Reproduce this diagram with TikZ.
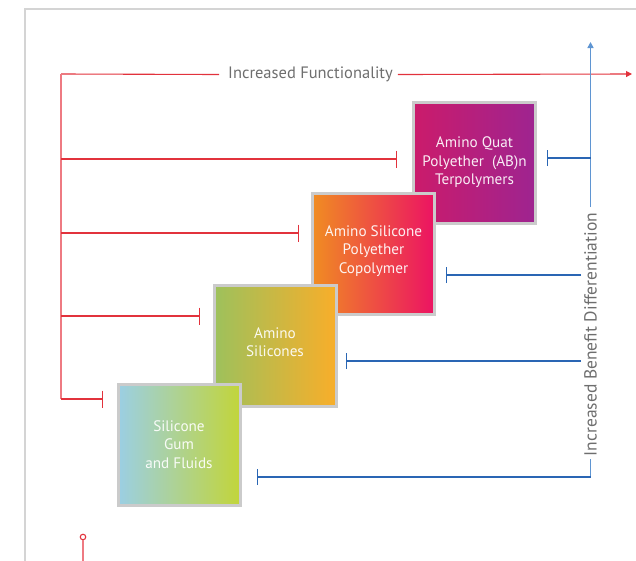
\documentclass[tikz,border=0pt]{standalone}
\usepackage{fontspec}
\setmainfont{PT Sans}
\usetikzlibrary{arrows.meta}
\definecolor{framegray}{HTML}{D4D4D4}
\definecolor{boxgray}{HTML}{CBCBCB}
\definecolor{labelgray}{HTML}{6E6E6E}
\definecolor{redline}{HTML}{E2323C}
\definecolor{redlight}{HTML}{EE7A82}
\definecolor{blueline}{HTML}{2A66B4}
\definecolor{bluelight}{HTML}{5F95D2}
\definecolor{bfourL}{HTML}{CB1B6B}
\definecolor{bfourR}{HTML}{9E2490}
\definecolor{bthreeL}{HTML}{F08C22}
\definecolor{bthreeR}{HTML}{EC1363}
\definecolor{btwoL}{HTML}{9DC15C}
\definecolor{btwoR}{HTML}{F8AE2A}
\definecolor{boneL}{HTML}{9BCFE4}
\definecolor{boneR}{HTML}{C2D53A}
\begin{document}
\begin{tikzpicture}[x=1pt,y=-1pt,
  stepbox/.style={draw=boxgray,line width=3pt,minimum width=122pt,minimum height=121pt,
    align=center,text=white,text opacity=0.92,font=\fontsize{15.2}{18.5}\selectfont,inner sep=0pt},
  redln/.style={draw=redline,line width=1.1pt},
  blueln/.style={draw=blueline,line width=1.1pt},
  redtick/.style={redln,-{Bar[width=17pt,line width=1.1pt]}},
  bluetick/.style={blueln,-{Bar[width=16pt,line width=1.1pt]}},
  outlabel/.style={text=labelgray,inner sep=0pt}
]
\useasboundingbox (0,0) rectangle (636,560);
% frame
\draw[framegray,line width=2.5pt] (25,570) -- (25,9) -- (650,9);

% red functionality axis
\coordinate (rc) at (61,74);
\coordinate (rend) at (632,74);
\node[outlabel,font=\fontsize{16.5}{18}\selectfont] (fl) at (310.5,74.5) {Increased Functionality};
\draw[redln] (rc) -- ([xshift=-9pt]fl.west);
\draw[redln,-{Triangle[length=6pt,width=6pt]}] ([xshift=5pt]fl.east) -- (rend);
\coordinate (r1) at (61,399);
\coordinate (r2) at (61,316);
\coordinate (r3) at (61,233);
\coordinate (r4) at (61,159);
\draw[draw=redlight,line width=1.3pt] (rc) -- (r1);
\coordinate (t1) at (103,399);
\coordinate (t2) at (200,316);
\coordinate (t3) at (299,233);
\coordinate (t4) at (397,159);
\draw[redtick] (r1) -- (t1);
\draw[redtick] (r2) -- (t2);
\draw[redtick] (r3) -- (t3);
\draw[redtick] (r4) -- (t4);

% blue benefit axis
\coordinate (btop) at (590.5,42);
\coordinate (bv4) at (590.5,158);
\coordinate (bvt) at (590.5,207);
\node[outlabel,rotate=90,font=\fontsize{17.5}{18}\selectfont] (bl) at (590.5,334.5) {Increased Benefit Differentiation};
\draw[draw=bluelight,line width=1.7pt,-{Triangle[length=6pt,width=6pt]}] (bvt) -- (btop);
\coordinate (bvb) at (590.5,459);
\coordinate (bc) at (590.5,477);
\draw[draw=bluelight,line width=1.7pt] (bvb) -- (bc);
\coordinate (u4) at (547,158);
\coordinate (u3) at (446,275);
\coordinate (u2) at (346,361);
\coordinate (u1) at (257,477);
\coordinate (e3) at (581,275);
\coordinate (e2) at (581,361);
\draw[bluetick] (bv4) -- (u4);
\draw[bluetick] (e3) -- (u3);
\draw[bluetick] (e2) -- (u2);
\draw[bluetick] (bc) -- (u1);

% boxes
\node[stepbox,left color=bfourL,right color=bfourR] (b4) at (474.5,162.5)
  {Amino Quat\\Polyether~ (AB)n\\Terpolymers};
\node[stepbox,left color=bthreeL,right color=bthreeR,text depth=9pt] (b3) at (373.5,254)
  {Amino Silicone\\Polyether\\Copolymer};
\node[stepbox,left color=btwoL,right color=btwoR,text depth=7.5pt] (b2) at (275,346)
  {Amino\\Silicones};
\node[stepbox,left color=boneL,right color=boneR] (b1) at (179,444.5)
  {Silicone\\Gum\\and Fluids};

% small red marker at bottom
\node[circle,draw=redline,line width=1.1pt,fill=white,inner sep=0pt,minimum size=5.5pt] (dot) at (83,537) {};
\coordinate (dotend) at (83,565);
\draw[draw=redlight,line width=1.3pt] (dot.south) -- (dotend);
\end{tikzpicture}
\end{document}
